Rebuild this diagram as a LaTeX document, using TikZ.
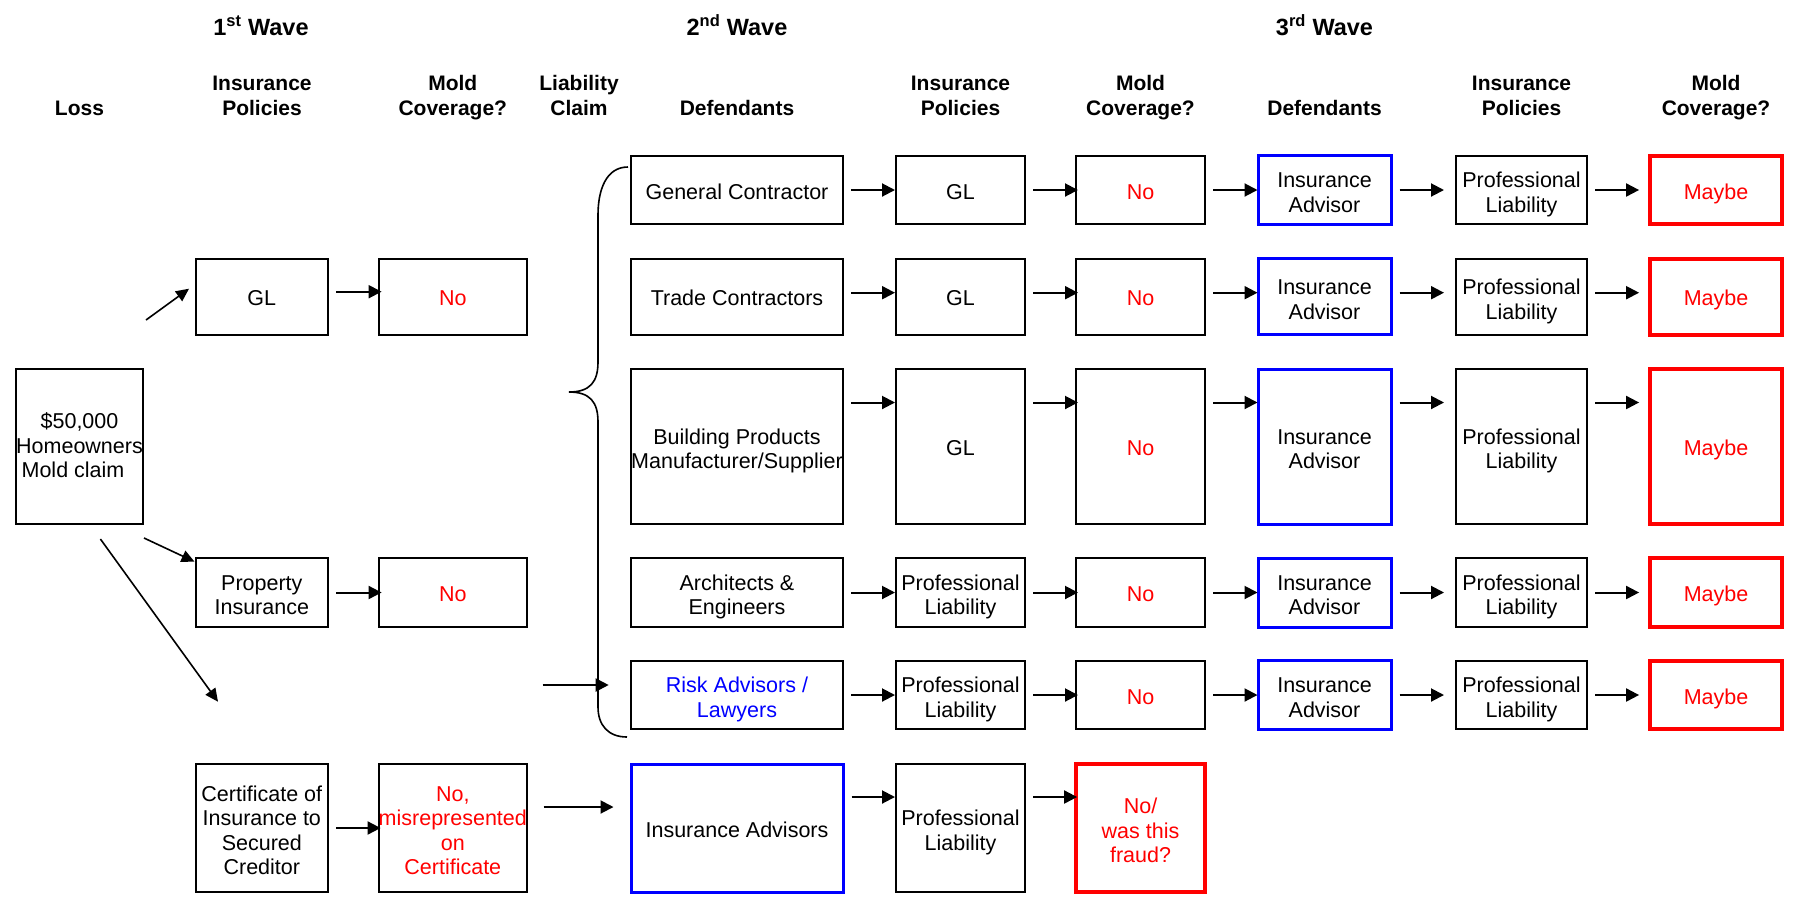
\documentclass[tikz,border=0pt]{standalone}
\usepackage{fontspec}
\setmainfont{Liberation Sans}
\usetikzlibrary{arrows.meta}

\tikzset{
  box/.style={draw, line width=2pt, align=center, inner sep=0pt,
    text height=18.2pt, text depth=0pt, font=\fontsize{21.5}{24.5}\selectfont},
  twolines/.style={text height=44.7pt},
  threelines/.style={text height=69.2pt},
  fourlines/.style={text height=93.7pt},
  bluebox/.style={box, draw=blue, line width=3pt},
  redbox/.style={box, draw=red, line width=3.8pt, text=red},
  head/.style={align=center, inner sep=0pt, anchor=base,
    font=\fontsize{21}{24.3}\selectfont\bfseries},
  wave/.style={head, font=\fontsize{23.5}{26}\selectfont\bfseries},
  arr/.style={-{Triangle[length=13pt,width=13pt]}, line width=2pt},
  thinarr/.style={-{Triangle[length=13pt,width=12pt]}, line width=1.6pt},
  % column widths
  colL/.style={minimum width=127.7pt},
  colA/.style={minimum width=132.5pt},
  colB/.style={minimum width=148.4pt},
  colD/.style={minimum width=212pt},
  colP/.style={minimum width=129pt},
  colI/.style={minimum width=133pt},
  colQ/.style={minimum width=131pt},
  colY/.style={minimum width=132pt},
  % row heights
  rowA/.style={minimum height=68.3pt},
  rowB/.style={minimum height=76pt},
  rowC/.style={minimum height=155pt},
  rowD/.style={minimum height=69pt},
  rowE/.style={minimum height=68.3pt},
  rowF/.style={minimum height=128pt},
}

\begin{document}
\begin{tikzpicture}[x=1pt, y=-1pt]
\useasboundingbox (0,0) rectangle (1796,898);

% Headings
\node[wave] (wave1) at (261,35.7) {1\textsuperscript{st} Wave};
\node[wave] (wave2) at (737,35.7) {2\textsuperscript{nd} Wave};
\node[wave] (wave3) at (1324.5,35.7) {3\textsuperscript{rd} Wave};

\node[head] (hloss) at (79.5,115) {Loss};
\node[head] (hpol1) at (262,115) {Insurance\\Policies};
\node[head] (hmold1) at (452.8,115) {Mold\\Coverage?};
\node[head] (hclaim) at (579,115) {Liability\\Claim};
\node[head] (hdef2) at (737,115) {Defendants};
\node[head] (hpol2) at (960.5,115) {Insurance\\Policies};
\node[head] (hmold2) at (1140.5,115) {Mold\\Coverage?};
\node[head] (hdef3) at (1324.5,115) {Defendants};
\node[head] (hpol3) at (1521.5,115) {Insurance\\Policies};
\node[head] (hmold3) at (1716,115) {Mold\\Coverage?};

% Loss and 1st wave
\node[box, colL, rowC, text height=62.2pt] (loss) at (79.5,446.5) {\$50,000\\Homeowners\\Mold claim\hspace*{13pt}};
\node[box, colA, rowB] (gl) at (261.8,296.7) {GL};
\node[box, colB, rowB, text=red] (no1) at (452.8,296.7) {No};
\node[box, colA, rowD, twolines] (prop) at (261.8,592.5) {Property\\Insurance};
\node[box, colB, rowD, text=red] (no2) at (452.8,592.5) {No};
\node[box, colA, rowF, fourlines] (cert) at (261.8,828) {Certificate of\\Insurance to\\Secured\\Creditor};
\node[box, colB, rowF, fourlines, text=red] (no3) at (452.8,828) {No,\\misrepresented\\on\\Certificate};

% 2nd wave defendants
\node[box, colD, rowA] (gc) at (737,190) {General Contractor};
\node[box, colD, rowB] (tc) at (737,296.7) {Trade Contractors};
\node[box, colD, rowC, twolines] (bp) at (737,446.5) {Building Products\\Manufacturer/Supplier};
\node[box, colD, rowD, twolines] (ae) at (737,592.5) {Architects \&\\Engineers};
\node[box, colD, rowE, twolines, text=blue] (ra) at (737,695) {Risk Advisors /\\Lawyers};
\node[bluebox, colD, rowF] (ias) at (737,828) {Insurance Advisors};

% 2nd wave policies
\node[box, colP, rowA] (pol1) at (960.5,190) {GL};
\node[box, colP, rowB] (pol2) at (960.5,296.7) {GL};
\node[box, colP, rowC] (pol3) at (960.5,446.5) {GL};
\node[box, colP, rowD, twolines] (pol4) at (960.5,592.5) {Professional\\Liability};
\node[box, colP, rowE, twolines] (pol5) at (960.5,695) {Professional\\Liability};
\node[box, colP, rowF, twolines] (pol6) at (960.5,828) {Professional\\Liability};

% 2nd wave coverage
\node[box, colP, rowA, text=red] (mc1) at (1140.5,190) {No};
\node[box, colP, rowB, text=red] (mc2) at (1140.5,296.7) {No};
\node[box, colP, rowC, text=red] (mc3) at (1140.5,446.5) {No};
\node[box, colP, rowD, text=red] (mc4) at (1140.5,592.5) {No};
\node[box, colP, rowE, text=red] (mc5) at (1140.5,695) {No};
\node[redbox, colP, rowF, threelines] (mc6) at (1140.5,828) {No/\\was this\\fraud?};

% 3rd wave
\node[bluebox, colI, rowA, twolines] (adv1) at (1324.5,190) {Insurance\\Advisor};
\node[bluebox, colI, rowB, twolines] (adv2) at (1324.5,296.7) {Insurance\\Advisor};
\node[bluebox, colI, rowC, twolines] (adv3) at (1324.5,446.5) {Insurance\\Advisor};
\node[bluebox, colI, rowD, twolines] (adv4) at (1324.5,592.5) {Insurance\\Advisor};
\node[bluebox, colI, rowE, twolines] (adv5) at (1324.5,695) {Insurance\\Advisor};

\node[box, colQ, rowA, twolines] (pl1) at (1521.5,190) {Professional\\Liability};
\node[box, colQ, rowB, twolines] (pl2) at (1521.5,296.7) {Professional\\Liability};
\node[box, colQ, rowC, twolines] (pl3) at (1521.5,446.5) {Professional\\Liability};
\node[box, colQ, rowD, twolines] (pl4) at (1521.5,592.5) {Professional\\Liability};
\node[box, colQ, rowE, twolines] (pl5) at (1521.5,695) {Professional\\Liability};

\node[redbox, colY, rowA] (may1) at (1716,190) {Maybe};
\node[redbox, colY, rowB] (may2) at (1716,296.7) {Maybe};
\node[redbox, colY, rowC] (may3) at (1716,446.5) {Maybe};
\node[redbox, colY, rowD] (may4) at (1716,592.5) {Maybe};
\node[redbox, colY, rowE] (may5) at (1716,695) {Maybe};

% Arrows out of the loss
\coordinate (lossup) at (146,320);
\coordinate (losslow) at (144,538);
\coordinate (lossdiag) at (100.4,539);
\coordinate (diagend) at (218,701.7);
\coordinate (claimin) at (542.5,685);
\coordinate (certout) at (543.6,807);
\draw[thinarr] (lossup) -- ([xshift=-5.5pt,yshift=8pt]gl.west);
\draw[thinarr] (losslow) -- ([yshift=-4.7pt]prop.north west);
\draw[thinarr] (lossdiag) -- (diagend);

% 1st wave arrows
\draw[arr] ([xshift=7pt,yshift=5pt]gl.east) -- ([xshift=4pt,yshift=5pt]no1.west);
\draw[arr] ([xshift=7pt]prop.east) -- ([xshift=4pt]no2.west);
\draw[arr] ([xshift=7pt]cert.east) -- ([xshift=3pt]no3.west);

% Liability claim brace
\draw[line width=1.6pt] (628,167) .. controls (606,167) and (598,190) .. (598,215)
  -- (598,362) .. controls (598,382) and (590,392) .. (569,392)
  .. controls (590,392) and (598,402) .. (598,422)
  -- (598,707) .. controls (598,725) and (608,737) .. (627,737);
\draw[arr] (claimin) -- ([xshift=-21.3pt,yshift=10pt]ra.west);
\draw[arr] (certout) -- ([xshift=-16pt,yshift=21pt]ias.west);

% Row arrows: defendants -> policies -> coverage
\draw[arr] ([xshift=7pt]gc.east) -- (pol1.west);
\draw[arr] ([xshift=7pt,yshift=4pt]tc.east) -- ([yshift=4pt]pol2.west);
\draw[arr] ([xshift=7pt,yshift=44pt]bp.east) -- ([yshift=44pt]pol3.west);
\draw[arr] ([xshift=7pt]ae.east) -- (pol4.west);
\draw[arr] ([xshift=7pt]ra.east) -- (pol5.west);
\draw[arr] ([xshift=7pt,yshift=31pt]ias.east) -- ([yshift=31pt]pol6.west);

\draw[arr] ([xshift=7pt]pol1.east) -- ([xshift=3pt]mc1.west);
\draw[arr] ([xshift=7pt,yshift=4pt]pol2.east) -- ([xshift=3pt,yshift=4pt]mc2.west);
\draw[arr] ([xshift=7pt,yshift=44pt]pol3.east) -- ([xshift=3pt,yshift=44pt]mc3.west);
\draw[arr] ([xshift=7pt]pol4.east) -- ([xshift=3pt]mc4.west);
\draw[arr] ([xshift=7pt]pol5.east) -- ([xshift=3pt]mc5.west);
\draw[arr] ([xshift=7pt,yshift=31pt]pol6.east) -- ([xshift=3pt,yshift=31pt]mc6.west);

% Row arrows: coverage -> advisor -> policy -> coverage
\draw[arr] ([xshift=7pt]mc1.east) -- ([xshift=1pt]adv1.west);
\draw[arr] ([xshift=7pt,yshift=4pt]mc2.east) -- ([xshift=1pt,yshift=4pt]adv2.west);
\draw[arr] ([xshift=7pt,yshift=44pt]mc3.east) -- ([xshift=1pt,yshift=44pt]adv3.west);
\draw[arr] ([xshift=7pt]mc4.east) -- ([xshift=1pt]adv4.west);
\draw[arr] ([xshift=7pt]mc5.east) -- ([xshift=1pt]adv5.west);

\draw[arr] ([xshift=7pt]adv1.east) -- ([xshift=-11pt]pl1.west);
\draw[arr] ([xshift=7pt,yshift=4pt]adv2.east) -- ([xshift=-11pt,yshift=4pt]pl2.west);
\draw[arr] ([xshift=7pt,yshift=44pt]adv3.east) -- ([xshift=-11pt,yshift=44pt]pl3.west);
\draw[arr] ([xshift=7pt]adv4.east) -- ([xshift=-11pt]pl4.west);
\draw[arr] ([xshift=7pt]adv5.east) -- ([xshift=-11pt]pl5.west);

\draw[arr] ([xshift=7pt]pl1.east) -- ([xshift=-9pt]may1.west);
\draw[arr] ([xshift=7pt,yshift=4pt]pl2.east) -- ([xshift=-9pt,yshift=4pt]may2.west);
\draw[arr] ([xshift=7pt,yshift=44pt]pl3.east) -- ([xshift=-9pt,yshift=44pt]may3.west);
\draw[arr] ([xshift=7pt]pl4.east) -- ([xshift=-9pt]may4.west);
\draw[arr] ([xshift=7pt]pl5.east) -- ([xshift=-9pt]may5.west);
\end{tikzpicture}
\end{document}
